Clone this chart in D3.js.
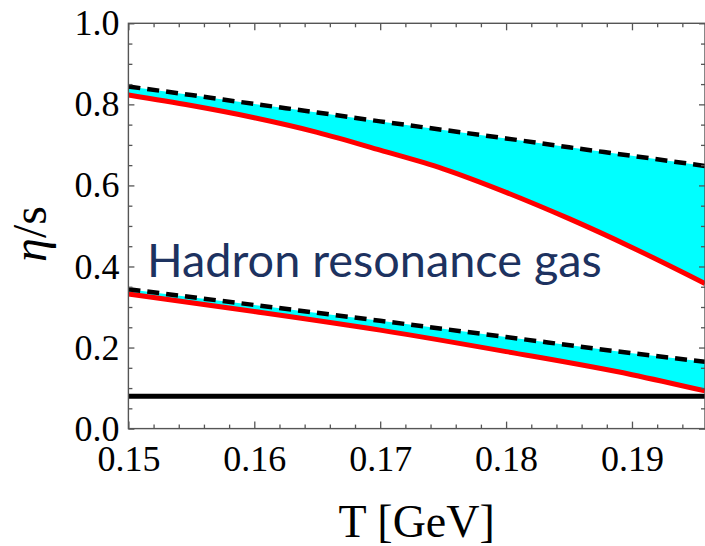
<!DOCTYPE html>
<html>
<head>
<meta charset="utf-8">
<script src="https://cdn.jsdelivr.net/npm/d3@7"></script>
<style>
  html, body { margin: 0; padding: 0; background: #fff; }
  svg { display: block; }
</style>
</head>
<body>
<svg id="chart" width="705" height="546"></svg>
<script>
// Temperature grid (GeV) and eta/s bands
const T = [0.150, 0.155, 0.160, 0.165, 0.170, 0.175, 0.180, 0.185, 0.190, 0.1958];
const upperRed    = [0.823, 0.797, 0.767, 0.731, 0.687, 0.641, 0.583, 0.518, 0.447, 0.358];
const upperDashed = [0.844, 0.823, 0.801, 0.780, 0.758, 0.737, 0.716, 0.694, 0.673, 0.648];

const Tlow = [0.150, 0.160, 0.170, 0.180, 0.190, 0.1958];
const lowerRed    = [0.332, 0.289, 0.243, 0.190, 0.133, 0.093];
const lowerDashed = [0.344, 0.305, 0.266, 0.226, 0.186, 0.165];

const kssBound = 1 / (4 * Math.PI);   // eta/s = 1/4pi

const xMajor = [0.15, 0.16, 0.17, 0.18, 0.19];
const yMajor = [0.0, 0.2, 0.4, 0.6, 0.8, 1.0];

const svg = d3.select("#chart");
const x = d3.scaleLinear().domain([0.15, 0.1958]).range([128.4, 705]);
const y = d3.scaleLinear().domain([0, 1]).range([428.6, 23.3]);

const xMinor = d3.range(0.15, 0.1959, 0.002).filter(v => !xMajor.some(m => Math.abs(m - v) < 1e-6));
const yMinor = d3.range(0, 1.0001, 0.05).filter(v => !yMajor.some(m => Math.abs(m - v) < 1e-6));

const [x0, x1] = x.range();
const [yb, yt] = y.range();

svg.append("defs").append("clipPath").attr("id", "plotclip")
  .append("rect").attr("x", x0).attr("y", yt).attr("width", x1 - x0).attr("height", yb - yt);

const plot = svg.append("g").attr("clip-path", "url(#plotclip)");

function band(ts, lo, hi, curve) {
  const pts = ts.map((t, i) => ({ t, lo: lo[i], hi: hi[i] }));
  const area = d3.area().x(d => x(d.t)).y0(d => y(d.lo)).y1(d => y(d.hi)).curve(curve);
  const lineLo = d3.line().x(d => x(d.t)).y(d => y(d.lo)).curve(curve);
  const lineHi = d3.line().x(d => x(d.t)).y(d => y(d.hi)).curve(curve);
  plot.append("path").datum(pts).attr("d", area).attr("fill", "#00ffff");
  plot.append("path").datum(pts).attr("d", lineLo)
    .attr("fill", "none").attr("stroke", "#ff0000").attr("stroke-width", 5);
  plot.append("path").datum(pts).attr("d", lineHi)
    .attr("fill", "none").attr("stroke", "#000").attr("stroke-width", 4.5)
    .attr("stroke-dasharray", "12,7");
}

band(T, upperRed, upperDashed, d3.curveMonotoneX);
band(Tlow, lowerRed, lowerDashed, d3.curveMonotoneX);

plot.append("line")
  .attr("x1", x0).attr("x2", x1)
  .attr("y1", y(kssBound)).attr("y2", y(kssBound))
  .attr("stroke", "#000").attr("stroke-width", 5);

// Frame with inward ticks on all four sides
const axisColor = "#555";
function styleAxis(g) {
  g.select(".domain").remove();
  g.selectAll(".tick line").attr("stroke", axisColor).attr("stroke-width", 1.3);
  g.selectAll(".tick text")
    .attr("fill", "#000")
    .style("font-family", "'Liberation Serif', 'Times New Roman', serif")
    .style("font-size", "36px");
}

svg.append("g").attr("transform", `translate(0,${yb})`)
  .call(d3.axisBottom(x).tickValues(xMajor).tickSize(-7).tickPadding(17).tickFormat(d3.format(".2f")))
  .call(styleAxis);
svg.append("g").attr("transform", `translate(0,${yb})`)
  .call(d3.axisBottom(x).tickValues(xMinor).tickSize(-4).tickFormat(""))
  .call(styleAxis);
svg.append("g").attr("transform", `translate(0,${yt})`)
  .call(d3.axisTop(x).tickValues(xMajor).tickSize(-7).tickFormat(""))
  .call(styleAxis);
svg.append("g").attr("transform", `translate(0,${yt})`)
  .call(d3.axisTop(x).tickValues(xMinor).tickSize(-4).tickFormat(""))
  .call(styleAxis);

svg.append("g").attr("transform", `translate(${x0},0)`)
  .call(d3.axisLeft(y).tickValues(yMajor).tickSize(-6).tickPadding(9).tickFormat(d3.format(".1f")))
  .call(styleAxis);
svg.append("g").attr("transform", `translate(${x0},0)`)
  .call(d3.axisLeft(y).tickValues(yMinor).tickSize(-4).tickFormat(""))
  .call(styleAxis);
svg.append("g").attr("transform", `translate(${x1},0)`)
  .call(d3.axisRight(y).tickValues(yMajor).tickSize(-6).tickFormat(""))
  .call(styleAxis);
svg.append("g").attr("transform", `translate(${x1},0)`)
  .call(d3.axisRight(y).tickValues(yMinor).tickSize(-4).tickFormat(""))
  .call(styleAxis);

svg.append("rect")
  .attr("x", x0).attr("y", yt).attr("width", x1 - x0).attr("height", yb - yt)
  .attr("fill", "none").attr("stroke", axisColor).attr("stroke-width", 1.4);

// Axis titles
svg.append("text")
  .attr("x", (x0 + x1) / 2).attr("y", 537)
  .attr("text-anchor", "middle")
  .style("font-family", "'Liberation Serif', 'Times New Roman', serif")
  .style("font-size", "46px")
  .text("T [GeV]");

const ylab = svg.append("text")
  .attr("transform", "translate(46,234) rotate(-90)")
  .attr("text-anchor", "middle")
  .style("font-family", "'Liberation Serif', 'Times New Roman', serif")
  .style("font-size", "48px");
ylab.append("tspan").style("font-style", "italic").text("η");
ylab.append("tspan").text("/s");

// Annotation
const note = svg.append("text")
  .attr("x", 147).attr("y", 277)
  .attr("fill", "#1d3260")
  .style("font-family", "Lato, 'Open Sans', sans-serif")
  .style("font-size", "40px")
  .text("Hadron resonance gas");
const w = note.node().getComputedTextLength();
note.style("font-size", (40 * 455 / w).toFixed(2) + "px");
</script>
</body>
</html>
